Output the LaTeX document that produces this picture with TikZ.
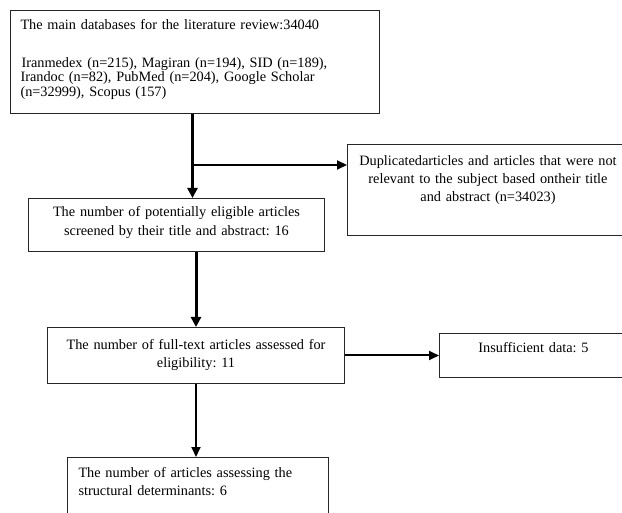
\documentclass[tikz,border=0pt]{standalone}
\usepackage{fontspec}
\setmainfont{Liberation Serif}
\usetikzlibrary{arrows.meta}
\frenchspacing

\begin{document}
\begin{tikzpicture}[x=1pt,y=-1pt,
  flowbox/.style={draw=black!85,line width=1pt,anchor=north west,inner xsep=6pt,text height=11pt,font=\fontsize{14.3}{18}\selectfont},
  bigarrow/.style={line width=3pt,-{Triangle[length=10pt,width=10pt]}},
  smallarrow/.style={line width=2pt,-{Triangle[length=10pt,width=9pt]}}]
\useasboundingbox (0,0) rectangle (622,513);
% boxes
\node[flowbox,text width=349pt,inner xsep=10pt,inner ysep=8pt,text depth=76pt,align=left,font=\fontsize{14.3}{14.5}\selectfont] (src) at (10,10)
  {The main databases for the literature review:34040\\[23.5pt]
   \hspace{1pt}Iranmedex (n=215), Magiran (n=194), SID (n=189),\\
   Irandoc (n=82), PubMed (n=204), Google Scholar\\
   (n=32999), Scopus (157)};
\node[flowbox,text width=269pt,inner ysep=10.5pt,text depth=59pt,align=center,font=\fontsize{14.3}{18}\selectfont] (excl) at (347,144)
  {Duplicatedarticles and articles that were not\\
   relevant to the subject based ontheir title\\
   and abstract (n=34023)};
\node[flowbox,text width=284pt,inner ysep=7pt,text depth=28pt,align=center,font=\fontsize{14.3}{19.5}\selectfont] (screen) at (28,198)
  {The number of potentially eligible articles\\
   screened by their title and abstract: 16};
\node[flowbox,text width=285pt,inner ysep=11pt,text depth=23pt,align=center,font=\fontsize{14.3}{17.7}\selectfont] (full) at (47,327)
  {The number of full-text articles assessed for\\
   eligibility: 11};
\node[flowbox,text width=176pt,inner ysep=7.7pt,text depth=17.6pt,align=center] (insuff) at (439,333)
  {Insufficient data: 5};
\node[flowbox,text width=239pt,inner xsep=11pt,inner ysep=9.3pt,text depth=40.4pt,align=left,font=\fontsize{14.3}{17.4}\selectfont] (result) at (67,457)
  {The number of articles assessing the\\
   structural determinants: 6};
% connectors
\coordinate (split) at ([xshift=-2.5pt,yshift=-51pt]src.south);
\draw[bigarrow] ([xshift=-2.5pt]src.south) -- ([xshift=16pt]screen.north);
\draw[smallarrow] (split) -- (split -| excl.west);
\draw[bigarrow] ([xshift=19.5pt]screen.south) -- (full.north);
\draw[smallarrow] (full.east) -- (insuff.west);
\draw[smallarrow] (full.south) -- (full.south |- result.north);
\end{tikzpicture}
\end{document}
